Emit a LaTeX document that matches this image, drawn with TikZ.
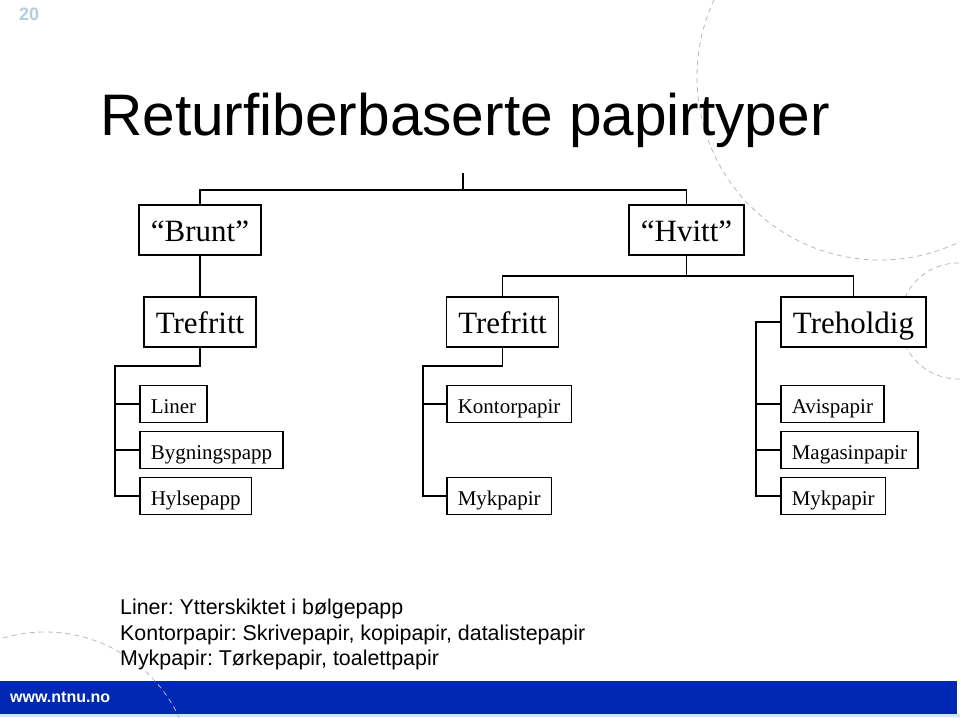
\documentclass[tikz,border=0pt]{standalone}
\usepackage{fontspec}
\setmainfont{Liberation Serif}
\newfontfamily\arialfont{Liberation Sans}
\frenchspacing
\definecolor{ntnublue}{RGB}{0,40,180}
\definecolor{pagegrey}{RGB}{180,205,225}
\definecolor{arcgrey}{RGB}{185,185,185}
\definecolor{bandline}{RGB}{205,232,245}
\tikzset{
	bigbox/.style={draw,line width=1.5pt,fill=white,minimum height=50pt,inner xsep=12pt,text height=24pt,text depth=1pt,font=\fontsize{31}{36}\selectfont},
	smallbox/.style={draw,line width=1.5pt,fill=white,minimum height=37pt,inner xsep=11pt,text height=18pt,text depth=0pt,anchor=west,font=\fontsize{21}{25}\selectfont},
	conn/.style={line width=1.5pt},
	ring/.style={arcgrey,line width=0.8pt,dash pattern=on 5pt off 4pt},
	notetext/.style={anchor=base west,inner sep=0pt,font=\arialfont\fontsize{21.4}{25}\selectfont}
}
\begin{document}
	\begin{tikzpicture}[x=1pt,y=-1pt]
		\useasboundingbox (0,0) rectangle (960,717);
		\fill[ntnublue] (0,681) rectangle (957,714);
		\fill[bandline] (0,714) rectangle (960,717);
		\begin{scope}
			\clip (0,0) rectangle (960,717);
			\draw[ring] (880,77) circle[radius=183pt];
			\draw[ring] (958,321) circle[radius=58pt];
			\draw[ring] (45,780) circle[radius=148pt];
		\end{scope}
		\node[anchor=base west,inner sep=0pt,text=pagegrey,font=\arialfont\bfseries\fontsize{18}{20}\selectfont] (pagenum) at (19,21) {20};
		\node[anchor=base west,inner sep=0pt,font=\arialfont\fontsize{58.6}{64}\selectfont] (title) at (100,135) {Returfiberbaserte papirtyper};
		\node[bigbox] (brunt) at (200,230) {“Brunt”};
		\node[bigbox] (hvitt) at (686.5,230) {“Hvitt”};
		\node[bigbox] (tref1) at (200,322) {Trefritt};
		\node[bigbox] (tref2) at (502.5,322) {Trefritt};
		\node[bigbox] (trehold) at (853.5,322) {Treholdig};
		\node[smallbox] (liner) at (139,404) {Liner};
		\node[smallbox] (byg) at (139,450) {Bygningspapp};
		\node[smallbox] (hylse) at (139,496) {Hylsepapp};
		\node[smallbox] (kontor) at (446,404) {Kontorpapir};
		\node[smallbox] (myk1) at (446,496) {Mykpapir};
		\node[smallbox] (avis) at (780,404) {Avispapir};
		\node[smallbox] (magasin) at (780,450) {Magasinpapir};
		\node[smallbox] (myk2) at (780,496) {Mykpapir};
		\coordinate (top) at (463,173);
		\coordinate (bus) at (463,190);
		\draw[conn] (top) -- (bus);
		\draw[conn] (brunt.north) |- (bus) -| (hvitt.north);
		\draw[conn] (brunt.south) -- (tref1.north);
		\draw[conn] (hvitt.south) -- ++(0,20) coordinate (bus2);
		\draw[conn] (tref2.north) |- (bus2) -| (trehold.north);
		\draw[conn] (tref1.south) -- ++(0,18) -| ([xshift=-24pt]hylse.west) -- (hylse.west);
		\draw[conn] (liner.west) -- ++(-24,0);
		\draw[conn] (byg.west) -- ++(-24,0);
		\draw[conn] (tref2.south) -- ++(0,18) -| ([xshift=-23pt]myk1.west) -- (myk1.west);
		\draw[conn] (kontor.west) -- ++(-23,0);
		\draw[conn] (trehold.west) -| ([xshift=-24pt]myk2.west) -- (myk2.west);
		\draw[conn] (avis.west) -- ++(-24,0);
		\draw[conn] (magasin.west) -- ++(-24,0);
		\node[notetext] (note1) at (120,614) {Liner: Ytterskiktet i bølgepapp};
		\node[notetext] (note2) at (120,640) {Kontorpapir: Skrivepapir, kopipapir, datalistepapir};
		\node[notetext] (note3) at (120,665) {Mykpapir: Tørkepapir, toalettpapir};
		\node[anchor=base west,inner sep=0pt,text=white,font=\arialfont\bfseries\fontsize{16}{18}\selectfont] (url) at (10,702) {www.ntnu.no};
	\end{tikzpicture}
\end{document}
